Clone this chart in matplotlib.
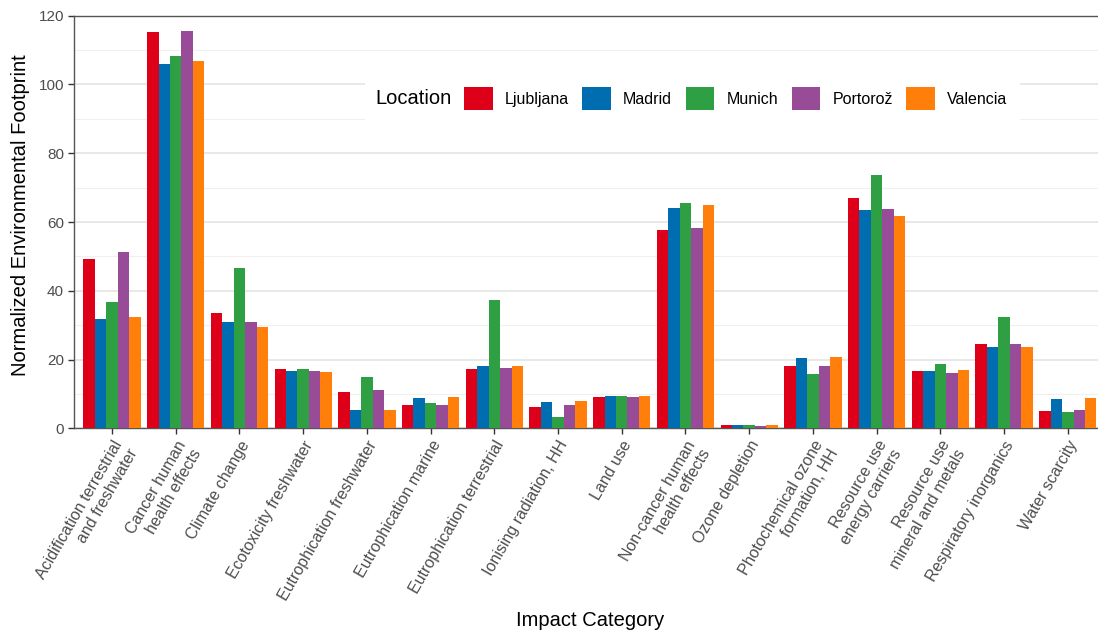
import matplotlib.pyplot as plt
from matplotlib.patches import Rectangle
import numpy as np

plt.rcParams['font.family'] = ['Liberation Sans', 'DejaVu Sans']

categories = ["Acidification terrestrial\nand freshwater", "Cancer human\nhealth effects",
              "Climate change", "Ecotoxicity freshwater", "Eutrophication freshwater",
              "Eutrophication marine", "Eutrophication terrestrial", "Ionising radiation, HH",
              "Land use", "Non-cancer human\nhealth effects", "Ozone depletion",
              "Photochemical ozone\nformation, HH", "Resource use\nenergy carriers",
              "Resource use\nmineral and metals", "Respiratory inorganics", "Water scarcity"]

locations = ["Ljubljana", "Madrid", "Munich", "Portorož", "Valencia"]

ljubljana = [49.2, 115.4, 33.6, 17.3, 10.6, 6.7, 17.3, 6.3, 9.0, 57.8, 0.9, 18.2, 66.9, 16.7, 24.4, 5.1]
madrid = [31.7, 105.9, 31.0, 16.6, 5.2, 8.8, 18.0, 7.6, 9.3, 64.0, 0.9, 20.4, 63.4, 16.7, 23.5, 8.5]
munich = [36.8, 108.2, 46.5, 17.2, 15.0, 7.3, 37.3, 3.2, 9.5, 65.6, 0.9, 15.7, 73.7, 18.6, 32.4, 4.7]
portoroz = [51.2, 115.6, 30.8, 16.8, 11.1, 6.9, 17.5, 6.7, 9.0, 58.3, 0.8, 18.1, 63.7, 16.1, 24.5, 5.4]
valencia = [32.3, 106.8, 29.6, 16.4, 5.4, 9.0, 18.2, 7.9, 9.3, 64.9, 0.9, 20.6, 61.8, 16.9, 23.5, 8.8]

colors = ['#DE0019', '#006DB1', '#2EA043', '#984C98', '#FF7F0A']

W, H = 1098, 633
fig = plt.figure(figsize=(W / 100, H / 100), dpi=100)
# panel runs a little past the right edge of the figure
left, right, top, bottom = 73.8, 1106.0, 15.7, 428.3
ax = fig.add_axes([left / W, 1 - bottom / H, (right - left) / W, (bottom - top) / H])

x = np.arange(len(categories))
bw = 0.9 / len(locations)
series = [ljubljana, madrid, munich, portoroz, valencia]
for i, vals in enumerate(series):
    ax.bar(x - 0.45 + bw * (i + 0.5), vals, width=bw, color=colors[i],
           label=locations[i], zorder=3, linewidth=0)

ax.set_xlim(-0.6, len(categories) - 0.4)
ax.set_ylim(0, 120)
ax.set_yticks(range(0, 121, 20))
ax.set_yticks(range(10, 120, 20), minor=True)
ax.grid(axis='y', which='major', color='#E6E6E6', linewidth=1.3, zorder=0)
ax.grid(axis='y', which='minor', color='#F0F0F0', linewidth=0.8, zorder=0)
ax.grid(axis='x', visible=False)

for s in ['left', 'bottom', 'top']:
    ax.spines[s].set_color('#555555')
    ax.spines[s].set_linewidth(1.0)
ax.spines['right'].set_visible(False)

ax.tick_params(axis='both', which='major', length=4, width=1.0, color='#333333',
               labelcolor='#4D4D4D', labelsize=11)
ax.tick_params(axis='y', which='minor', length=0)
ax.tick_params(axis='y', pad=3)
ax.tick_params(axis='x', pad=3)

ax.set_xticks(x)
ax.set_xticklabels(categories, rotation=60, ha='right', va='top',
                   rotation_mode='anchor', multialignment='right', fontsize=11.5)

fig.text(590 / W, 1 - 620 / H, "Impact Category", ha='center', va='center', fontsize=14.5)
fig.text(21 / W, 1 - 215 / H, "Normalized Environmental Footprint", rotation=90,
         ha='center', va='center', fontsize=14.5)

# legend box with the title on its left
fig.patches.append(Rectangle((365 / W, 1 - 133 / H), (1020 - 365) / W, (133 - 64) / H,
                             transform=fig.transFigure, facecolor='white',
                             edgecolor='none', zorder=1))
fig.text(375 / W, 1 - 98.5 / H, "Location", ha='left', va='center', fontsize=14.5, zorder=2)
fig.legend(loc='center left', bbox_to_anchor=(464 / W, 1 - 98.5 / H), ncol=5,
           frameon=False, fontsize=11.5, handlelength=1.8, handleheight=1.8,
           handletextpad=0.75, columnspacing=0.85, borderpad=0, borderaxespad=0)

plt.savefig('out.png', dpi=100)
